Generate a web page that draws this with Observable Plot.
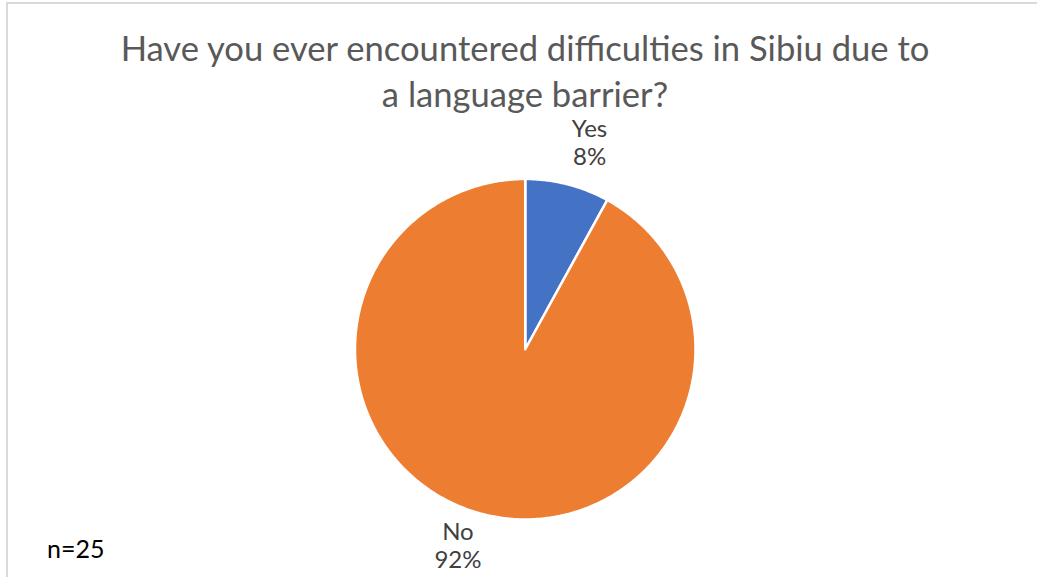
<!DOCTYPE html>
<html>
<head>
<meta charset="utf-8">
<script src="https://cdn.jsdelivr.net/npm/d3@7"></script>
<script src="https://cdn.jsdelivr.net/npm/@observablehq/plot@0.6"></script>
<style>
  html, body { margin: 0; padding: 0; background: #fff; }
  #wrap { position: relative; width: 1037px; height: 577px; overflow: hidden; font-family: Lato, "Open Sans", sans-serif; }
  #frame { position: absolute; left: 6px; top: 2px; width: 1100px; height: 700px; border-top: 2px solid #d9d9d9; border-left: 2px solid #d9d9d9; box-sizing: border-box; }
  #title { position: absolute; left: 0; top: 25px; width: 1050px; text-align: center; color: #595959; font-size: 34.6px; line-height: 46px; }
  #note { position: absolute; left: 47px; top: 533px; font-size: 25px; color: #000; }
  #chart { position: absolute; left: 0; top: 0; }
</style>
</head>
<body>
<div id="wrap">
  <div id="frame"></div>
  <div id="chart"></div>
  <div id="title">Have you ever encountered difficulties in Sibiu due to<br>a language barrier?</div>
  <div id="note">n=25</div>
</div>
<script>
const categories = ["Yes", "No"];
const values = [8, 92];
const colors = ["#4472C4", "#ED7D31"];

const table = categories.map((c, i) => ({category: c, value: values[i]}));
const arcs = d3.pie().sort(null).value(d => d.value)(table);

// polygon outline of each slice (unit circle coordinates)
const slicePts = [];
for (const a of arcs) {
  const n = Math.max(2, Math.ceil((a.endAngle - a.startAngle) / (Math.PI / 360)));
  slicePts.push({category: a.data.category, x: 0, y: 0});
  for (let k = 0; k <= n; k++) {
    const t = a.startAngle + (a.endAngle - a.startAngle) * k / n;
    slicePts.push({category: a.data.category, x: Math.sin(t), y: Math.cos(t)});
  }
  slicePts.push({category: a.data.category, x: 0, y: 0});
}

const total = d3.sum(values);
const labels = arcs.map(a => {
  const m = (a.startAngle + a.endAngle) / 2;
  const r = 1.07;
  return {
    category: a.data.category,
    x: Math.sin(m) * r,
    y: Math.cos(m) * r,
    right: Math.sin(m) >= 0,
    top: Math.cos(m) >= 0,
    text: `${a.data.category}\n${Math.round(a.data.value / total * 100)}%`
  };
});

const lab = {x: "x", y: "y", text: "text", lineHeight: 1.17, fontSize: 24, fill: "#404040"};
const chart = Plot.plot({
  width: 1037,
  height: 577,
  margin: 0,
  style: {background: "transparent", fontFamily: "Lato, 'Open Sans', sans-serif"},
  x: {domain: [-1, 1], range: [354.5, 695], axis: null},
  y: {domain: [-1, 1], range: [519, 178.5], axis: null},
  color: {domain: categories, range: colors},
  marks: [
    Plot.line(slicePts, {x: "x", y: "y", z: "category", fill: "category", stroke: "white", strokeWidth: 2.5, strokeLinejoin: "round", curve: "linear"}),
    Plot.text(labels.filter(d => d.right && d.top), {...lab, dx: 19, dy: -8, lineAnchor: "bottom"}),
    Plot.text(labels.filter(d => !d.right && !d.top), {...lab, dx: -22, dy: -6, lineAnchor: "top"}),
    Plot.text(labels.filter(d => d.right && !d.top), {...lab, dx: 20, dy: -6, lineAnchor: "top"}),
    Plot.text(labels.filter(d => !d.right && d.top), {...lab, dx: -20, dy: -8, lineAnchor: "bottom"})
  ]
});
document.getElementById("chart").appendChild(chart);
</script>
</body>
</html>
